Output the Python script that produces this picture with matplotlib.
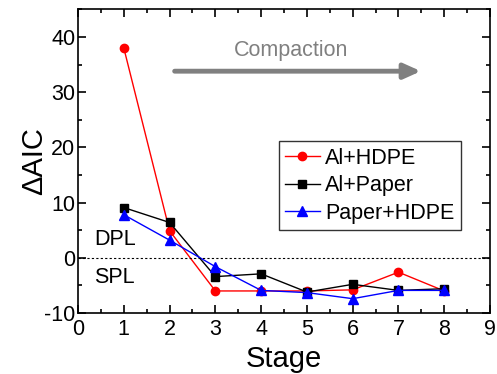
import numpy as np
import matplotlib.pyplot as plt
from matplotlib.ticker import MultipleLocator

plt.rcParams['font.family'] = ['Liberation Sans', 'DejaVu Sans']
plt.rcParams['axes.unicode_minus'] = False

stage = [1, 2, 3, 4, 5, 6, 7, 8]
al_hdpe = [38.0, 4.9, -6.0, -6.0, -6.0, -5.8, -2.6, -6.0]
al_paper = [9.1, 6.4, -3.4, -2.9, -6.2, -4.8, -5.9, -5.6]
paper_hdpe = [7.8, 3.2, -1.6, -5.9, -6.3, -7.4, -5.9, -5.9]

fig = plt.figure(figsize=(4.97, 3.74), dpi=100)
ax = fig.add_axes([0.157, 0.163, 0.829, 0.812])

ax.plot(stage, al_hdpe, color='red', marker='o', markersize=6, lw=1, label='Al+HDPE')
ax.plot(stage, al_paper, color='black', marker='s', markersize=5.5, lw=1, label='Al+Paper')
ax.plot(stage, paper_hdpe, color='blue', marker='^', markersize=6.5, lw=1, label='Paper+HDPE')
ax.axhline(0, color='black', lw=0.8, ls=(0, (2, 2)))

ax.set_xlim(0, 9)
ax.set_ylim(-10, 45)
ax.xaxis.set_major_locator(MultipleLocator(1))
ax.xaxis.set_minor_locator(MultipleLocator(0.5))
ax.yaxis.set_major_locator(MultipleLocator(10))
ax.yaxis.set_minor_locator(MultipleLocator(5))
ax.tick_params(which='both', direction='in', top=True, right=True, labelsize=15.5, width=1.2)
ax.tick_params(which='major', length=6)
ax.tick_params(which='minor', length=3)
ax.tick_params(axis='x', pad=4)
ax.tick_params(axis='y', pad=2)
for s in ax.spines.values():
    s.set_linewidth(1.2)

ax.set_xlabel('Stage', fontsize=21, labelpad=4)
ax.set_ylabel('ΔAIC', fontsize=21, labelpad=-3)

# compaction arrow
ax.annotate('', xy=(7.55, 33.8), xytext=(2.05, 33.8),
            arrowprops=dict(arrowstyle='-|>,head_length=1.0,head_width=0.45', color='#808080', lw=3.5))
ax.text(4.65, 37.6, 'Compaction', color='#808080', fontsize=15.5, ha='center', va='center')
ax.text(0.36, 3.3, 'DPL', fontsize=15.5, va='center')
ax.text(0.36, -3.6, 'SPL', fontsize=15.5, va='center')

ax.legend(loc='upper left', bbox_to_anchor=(0.487, 0.566), fontsize=15.5, frameon=True,
          fancybox=False, edgecolor='black', handlelength=1.6, handletextpad=0.25,
          borderpad=0.3, labelspacing=0.3, borderaxespad=0)

fig.savefig('out.png', dpi=100)
